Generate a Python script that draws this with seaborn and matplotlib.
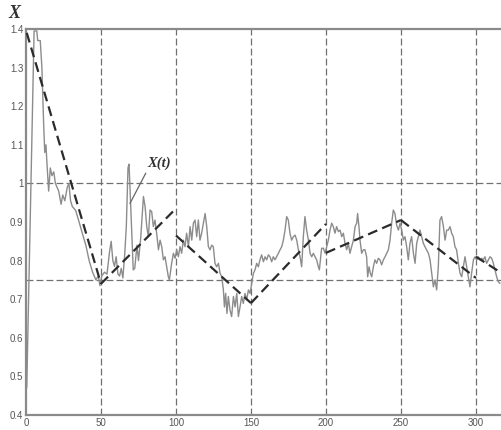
import numpy as np
import pandas as pd
import matplotlib
matplotlib.use("Agg")
import matplotlib.pyplot as plt
import seaborn as sns

# X(t) process (time, value)
t_vals = [
    0.5, 5.4, 7.2, 7.8, 9.5, 10.6, 11.8, 12.5, 13.3, 14.0, 15.1, 16.2, 17.3, 18.5, 19.6,
    21.8, 23.4, 24.5, 25.9, 27.5, 28.6, 29.7, 30.9, 33.1, 35.4, 37.6, 39.9, 42.1, 44.4,
    46.6, 48.2, 49.3, 50.5, 52.3, 54.0, 55.6, 56.8, 57.9, 59.0, 60.1, 61.3, 62.4, 63.5,
    64.6, 65.8, 66.9, 68.0, 68.7, 69.8, 71.5, 72.5, 74.0, 75.0, 76.5, 78.3, 79.4, 80.5,
    81.6, 82.7, 83.8, 84.9, 86.0, 87.1, 88.3, 89.4, 90.5, 91.6, 92.7, 93.8, 94.9, 95.6,
    97.1, 98.3, 99.4, 100.5, 101.6, 102.7, 103.8, 104.9, 106.0, 107.1, 108.3, 109.4,
    110.5, 111.6, 112.7, 113.8, 114.9, 116.0, 117.1, 118.3, 119.4, 120.5, 121.6, 122.7,
    123.8, 124.9, 126.0, 127.1, 128.3, 129.4, 130.5, 131.6, 132.3, 133.1, 134.0, 134.9,
    136.0, 137.1, 138.3, 139.4, 140.5, 141.6, 142.7, 143.8, 144.9, 146.0, 147.1, 148.3,
    149.4, 150.5, 151.6, 152.7, 153.8, 154.9, 156.0, 157.1, 158.3, 159.4, 160.5, 161.6,
    162.7, 163.8, 164.9, 166.0, 167.1, 168.3, 169.4, 170.5, 171.6, 172.7, 173.8, 174.9,
    176.0, 177.1, 178.3, 179.4, 180.5, 181.6, 182.7, 183.8, 184.9, 186.0, 187.1, 188.3,
    189.4, 190.5, 191.6, 192.7, 193.8, 194.9, 195.6, 196.5, 197.1, 198.3, 199.4, 200.5,
    201.6, 202.7, 203.8, 204.9, 206.0, 207.1, 208.3, 209.4, 210.5, 211.6, 212.7, 213.8,
    214.9, 216.0, 217.1, 218.3, 219.4, 220.5, 221.1, 222.0, 222.7, 223.8, 224.9, 226.0,
    227.1, 227.8, 228.7, 229.6, 230.5, 231.6, 232.7, 233.8, 234.9, 236.0, 237.1, 238.3,
    239.4, 240.5, 241.6, 242.7, 243.8, 244.9, 246.0, 247.1, 248.3, 249.4, 250.5, 251.6,
    252.7, 253.8, 254.9, 256.0, 257.1, 258.3, 259.4, 260.5, 261.6, 262.7, 263.8, 264.9,
    266.0, 267.1, 268.3, 269.4, 270.5, 271.6, 272.7, 273.8, 274.9, 276.0, 277.1, 278.3,
    279.4, 280.5, 281.6, 282.7, 283.8, 284.9, 286.0, 287.1, 288.3, 289.4, 290.5, 291.6,
    292.7, 293.8, 294.9, 296.0, 297.1, 298.3, 299.4, 300.5, 301.6, 302.7, 303.8, 304.9,
    306.0, 307.1, 308.3, 309.4, 310.5, 311.6, 312.7, 313.8, 314.9, 316.0,
]
x_vals = [
    0.47, 1.395, 1.395, 1.37, 1.37, 1.30, 1.15, 1.08, 1.10, 1.05, 0.98, 1.04, 1.02, 1.03, 1.00,
    0.98, 0.946, 0.97, 0.955, 0.99, 1.00, 0.955, 0.94, 0.93, 0.90, 0.87, 0.84, 0.80, 0.77,
    0.75, 0.76, 0.735, 0.76, 0.77, 0.765, 0.82, 0.85, 0.80, 0.785, 0.81, 0.765, 0.76, 0.78,
    0.755, 0.815, 0.89, 1.04, 1.05, 0.94, 0.776, 0.78, 0.84, 0.80, 0.86, 0.966, 0.94, 0.888,
    0.862, 0.931, 0.927, 0.888, 0.905, 0.871, 0.828, 0.853, 0.836, 0.802, 0.81, 0.784, 0.758, 0.75,
    0.793, 0.819, 0.806, 0.828, 0.81, 0.836, 0.819, 0.853, 0.836, 0.871, 0.836, 0.888,
    0.853, 0.897, 0.905, 0.862, 0.905, 0.853, 0.871, 0.897, 0.922, 0.888, 0.836, 0.828,
    0.84, 0.836, 0.793, 0.784, 0.793, 0.767, 0.758, 0.724, 0.68, 0.715, 0.663, 0.707,
    0.672, 0.655, 0.707, 0.68, 0.715, 0.655, 0.68, 0.707, 0.689, 0.715, 0.698, 0.724,
    0.715, 0.741, 0.767, 0.776, 0.793, 0.784, 0.802, 0.815, 0.797, 0.81, 0.802, 0.815,
    0.81, 0.797, 0.81, 0.802, 0.81, 0.819, 0.828, 0.836, 0.853, 0.879, 0.914, 0.905,
    0.871, 0.853, 0.862, 0.866, 0.853, 0.828, 0.81, 0.784, 0.862, 0.914, 0.879, 0.853,
    0.819, 0.81, 0.819, 0.81, 0.802, 0.784, 0.776, 0.81, 0.832, 0.832, 0.819, 0.836,
    0.853, 0.879, 0.897, 0.888, 0.871, 0.888, 0.875, 0.879, 0.862, 0.871, 0.845, 0.828,
    0.845, 0.819, 0.836, 0.853, 0.888, 0.897, 0.922, 0.888, 0.853, 0.819, 0.828, 0.828,
    0.81, 0.758, 0.784, 0.767, 0.758, 0.784, 0.802, 0.793, 0.806, 0.802, 0.789, 0.802,
    0.81, 0.819, 0.828, 0.853, 0.897, 0.931, 0.922, 0.892, 0.879, 0.897, 0.879, 0.853,
    0.862, 0.836, 0.802, 0.845, 0.862, 0.819, 0.793, 0.845, 0.862, 0.879, 0.862, 0.845,
    0.836, 0.828, 0.819, 0.802, 0.767, 0.732, 0.75, 0.724, 0.784, 0.905, 0.914, 0.888,
    0.853, 0.879, 0.879, 0.888, 0.871, 0.862, 0.836, 0.828, 0.793, 0.767, 0.758, 0.784,
    0.81, 0.784, 0.758, 0.732, 0.767, 0.802, 0.81, 0.802, 0.81, 0.802, 0.806, 0.802,
    0.81, 0.793, 0.802, 0.81, 0.806, 0.793, 0.776, 0.758, 0.745, 0.741,
]

# piecewise linear trend segments (start/end time and value)
seg_t0 = [0.5, 50, 100, 150, 200, 250, 300]
seg_t1 = [50, 100, 150, 200, 250, 300, 317]
seg_v0 = [1.39, 0.74, 0.865, 0.69, 0.82, 0.905, 0.81]
seg_v1 = [0.74, 0.935, 0.69, 0.895, 0.905, 0.755, 0.768]

x_ticks = [0, 50, 100, 150, 200, 250, 300]
y_ticks = [0.4, 0.5, 0.6, 0.7, 0.8, 0.9, 1.0, 1.1, 1.2, 1.3, 1.4]
ref_levels = [0.75, 1.0]
ref_times = [50, 100, 150, 200, 250, 300]

curve = pd.DataFrame({"t": t_vals, "x": x_vals})
trend = pd.DataFrame({
    "t": seg_t0 + seg_t1,
    "x": seg_v0 + seg_v1,
    "seg": list(range(len(seg_t0))) * 2,
})

sns.set_style("white")
plt.rcParams["font.family"] = ["Liberation Sans", "DejaVu Sans"]

fig = plt.figure(figsize=(5.01, 4.30), dpi=100)
ax = fig.add_axes([26 / 501, 15 / 430, 475 / 501, 386 / 430])

grid_kw = dict(color="#707070", linewidth=0.9, linestyle=(0, (5.5, 2.5)), zorder=1)
for lv in ref_levels:
    ax.axhline(lv, **grid_kw)
for tv in ref_times:
    ax.axvline(tv, **grid_kw)

sns.lineplot(data=curve, x="t", y="x", ax=ax, color="#8c8c8c", linewidth=1.0,
             sort=False, estimator=None, zorder=2)
sns.lineplot(data=trend, x="t", y="x", units="seg", estimator=None, ax=ax,
             color="#2b2b2b", linewidth=1.6, linestyle=(0, (4.5, 2.4)), zorder=3)

ax.set_xlim(0, 316.7)
ax.set_ylim(0.4, 1.4)
ax.set_xticks(x_ticks)
ax.set_yticks(y_ticks)
ax.set_xticklabels([str(v) for v in x_ticks])
ax.set_yticklabels([f"{v:g}" for v in y_ticks])
ax.set_xlabel("")
ax.set_ylabel("")
ax.tick_params(direction="in", length=4, width=0.8, color="#777777",
               labelsize=7, labelcolor="#555555", pad=2)

for side in ["left", "bottom", "top"]:
    ax.spines[side].set_color("#8a8a8a")
    ax.spines[side].set_linewidth(1.6)
ax.spines["right"].set_visible(False)

ax.annotate("X(t)", xy=(69.3, 0.948), xytext=(81.0, 1.035),
            fontsize=10.5, fontstyle="italic", fontweight="bold",
            family=["Liberation Serif", "DejaVu Serif"], color="#333333",
            va="bottom", ha="left",
            arrowprops=dict(arrowstyle="-", color="#666666", lw=0.9,
                            shrinkA=0, shrinkB=0, relpos=(0, 0)))

fig.text(14 / 501, 1 - 13 / 430, "X", fontsize=13, fontstyle="italic",
         fontweight="bold", family=["Liberation Serif", "DejaVu Serif"],
         color="#333333", ha="center", va="center")

fig.savefig("out.png", dpi=100)
plt.close(fig)
